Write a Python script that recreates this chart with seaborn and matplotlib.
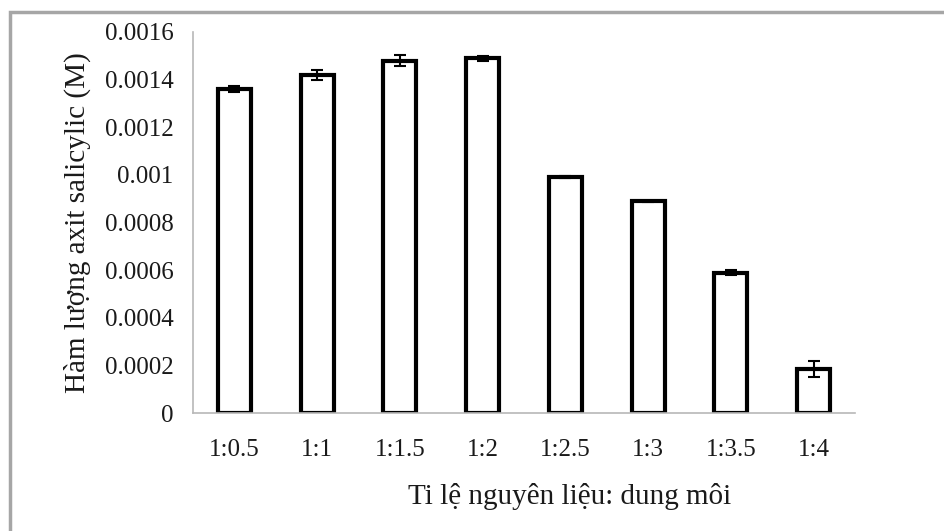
import matplotlib
matplotlib.use("Agg")
import matplotlib.pyplot as plt
import seaborn as sns
import pandas as pd
from matplotlib.patches import Rectangle

categories = ["1:0.5", "1:1", "1:1.5", "1:2", "1:2.5", "1:3", "1:3.5", "1:4"]
values = [0.00136, 0.00142, 0.00148, 0.00149, 0.00099, 0.00089, 0.00059, 0.000185]
errors = [0.000012, 0.00002, 0.000022, 0.00001, 0.000005, 0.000002, 0.000012, 0.000034]
yticks = [0, 0.0002, 0.0004, 0.0006, 0.0008, 0.001, 0.0012, 0.0014, 0.0016]
ytick_labels = ["0", "0.0002", "0.0004", "0.0006", "0.0008", "0.001", "0.0012", "0.0014", "0.0016"]

sns.set_style("white")
plt.rcParams["font.family"] = ["Liberation Serif", "DejaVu Serif"]

df = pd.DataFrame({"ratio": categories, "conc": values})

fig = plt.figure(figsize=(9.44, 5.31), dpi=100)
ax = fig.add_axes([193 / 944, 1 - 413 / 531, (855 - 193) / 944, (413 - 32) / 531])

sns.barplot(data=df, x="ratio", y="conc", ax=ax, color="white",
            edgecolor="black", linewidth=3, width=0.4, errorbar=None, saturation=1)
ax.errorbar(range(len(categories)), values, yerr=errors, fmt="none",
            ecolor="black", elinewidth=1.5, capsize=4, capthick=1.5)

txt = "#1a1a1a"
ax.set_xlim(-0.5, len(categories) - 0.5)
ax.set_ylim(0, 0.0016)
ax.set_yticks(yticks)
ax.set_yticklabels(ytick_labels, fontsize=18, color=txt)
ax.tick_params(axis="x", labelsize=18, labelcolor=txt)

# x ticks between categories
ax.set_xticks([i - 0.5 for i in range(len(categories) + 1)], minor=True)
ax.tick_params(axis="x", which="major", length=0, pad=19)
ax.tick_params(axis="x", which="minor", length=6, color="#b8b8b8", width=1.2, direction="out")
ax.tick_params(axis="y", length=6, color="#b8b8b8", width=1.2, direction="out", pad=8)

for s in ["top", "right"]:
    ax.spines[s].set_visible(False)
for s in ["left", "bottom"]:
    ax.spines[s].set_color("#b8b8b8")
    ax.spines[s].set_linewidth(1.2)

ax.set_xlabel("Ti lệ nguyên liệu: dung môi", fontsize=21, color=txt)
ax.xaxis.set_label_coords(0.569, -0.22)
ax.xaxis.label.set_verticalalignment("center")
ax.set_ylabel("Hàm lượng axit salicylic (M)", fontsize=21, color=txt, labelpad=10)

fig.patches.append(Rectangle((10 / 944, -0.1), 1.2, 1 - 12 / 531 + 0.1,
                             transform=fig.transFigure, fill=False,
                             edgecolor="#a6a6a6", linewidth=2.5, zorder=0))

fig.savefig("out.png", dpi=100)
